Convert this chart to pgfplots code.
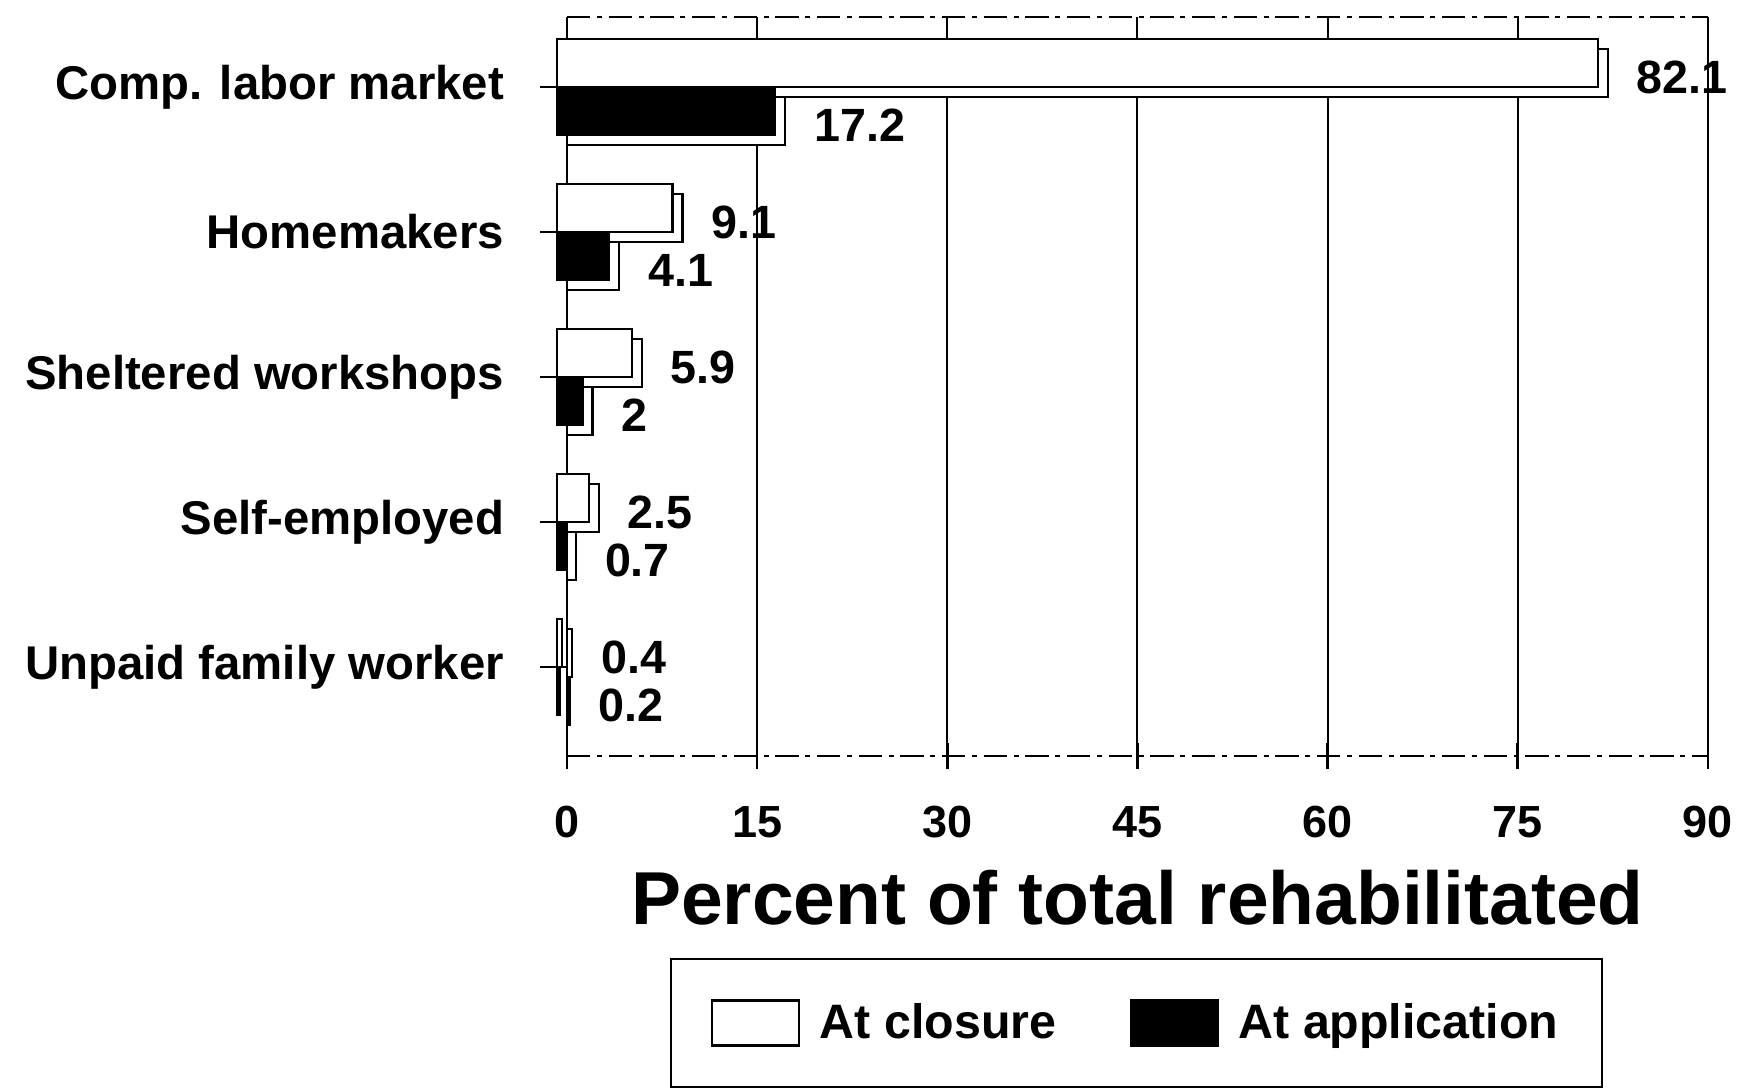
\documentclass[border=0pt]{standalone}
\usepackage{fontspec}
\setmainfont{Liberation Sans}
\usepackage{pgfplots}
\pgfplotsset{compat=1.18}
\begin{document}
\begin{tikzpicture}
\path[use as bounding box] (-170.1pt,-99.6pt) rectangle (352.8pt,226.8pt);
\begin{axis}[
  scale only axis,
  width=342.3pt, height=221.7pt,
  xmin=0, xmax=90, ymin=-0.614, ymax=4.483,
  xtick={0,15,30,45,60,75,90},
  ytick={0,1,2,3,4},
  yticklabels={Unpaid family worker, Self-employed, Sheltered workshops, Homemakers, Comp. labor market},
  /pgf/number format/assume math mode=true,
  xbar, bar width=14.4pt,
  clip=false,
  separate axis lines,
  x axis line style={dash pattern=on 7pt off 2pt on 1.5pt off 2pt, line width=0.7pt},
  y axis line style={line width=0.8pt},
  xmajorgrids, grid style={black, line width=0.6pt},
  tick align=center, major tick length=8pt,
  xtick pos=bottom, ytick pos=left,
  tick style={black, line width=0.8pt},
  ytick style={xshift=-4pt},
  ticklabel style={font=\bfseries\fontsize{13.5}{16}\selectfont},
  xticklabel style={anchor=north, yshift=-7.5pt},
  yticklabel style={anchor=east, inner sep=0pt, xshift=-14.7pt, font=\bfseries\fontsize{14.2}{16}\selectfont},
  xlabel={Percent of total rehabilitated},
  xlabel style={at={(axis description cs:0.5,0)}, anchor=base, yshift=-50.6pt, font=\bfseries\fontsize{22.5}{26}\selectfont},
  legend columns=2,
  legend style={at={(0,0)}, anchor=north west, xshift=30.9pt, yshift=-60.6pt,
    draw=black, line width=0.6pt, inner xsep=10pt, inner ysep=10.2pt,
    font=\bfseries\fontsize{14.5}{16}\selectfont,
    /tikz/every even column/.append style={column sep=17pt},
    nodes={inner sep=3pt}},
  legend image code/.code={\path (0pt,0pt) (31pt,0pt); \draw[#1] (2pt,-6.75pt) rectangle (28pt,6.75pt);},
  every node near coord/.append style={font=\bfseries\fontsize{14}{16}\selectfont, anchor=west, inner sep=0pt, xshift=8.4pt, yshift=-1.3pt, text=black},
]
% back faces (depth) of the closure bars
\addplot[forget plot, fill=white, draw=black, line width=0.7pt, bar shift=4.2pt,
  nodes near coords] coordinates {(82.1,4) (9.1,3) (5.9,2) (2.5,1) (0.4,0)};
% front faces of the closure bars
\addplot[fill=white, draw=black, line width=0.7pt, bar shift=7.2pt, xshift=-3pt]
  coordinates {(82.1,4) (9.1,3) (5.9,2) (2.5,1) (0.4,0)};
\addlegendentry{At closure}
% back faces (depth) of the application bars
\addplot[forget plot, fill=white, draw=black, line width=0.7pt, bar shift=-10.2pt,
  nodes near coords] coordinates {(17.2,4) (4.1,3) (2,2) (0.7,1) (0.2,0)};
% front faces of the application bars
\addplot[fill=black, draw=black, line width=0.7pt, bar shift=-7.2pt, xshift=-3pt]
  coordinates {(17.2,4) (4.1,3) (2,2) (0.7,1) (0.2,0)};
\addlegendentry{At application}
\end{axis}
\end{tikzpicture}
\end{document}
